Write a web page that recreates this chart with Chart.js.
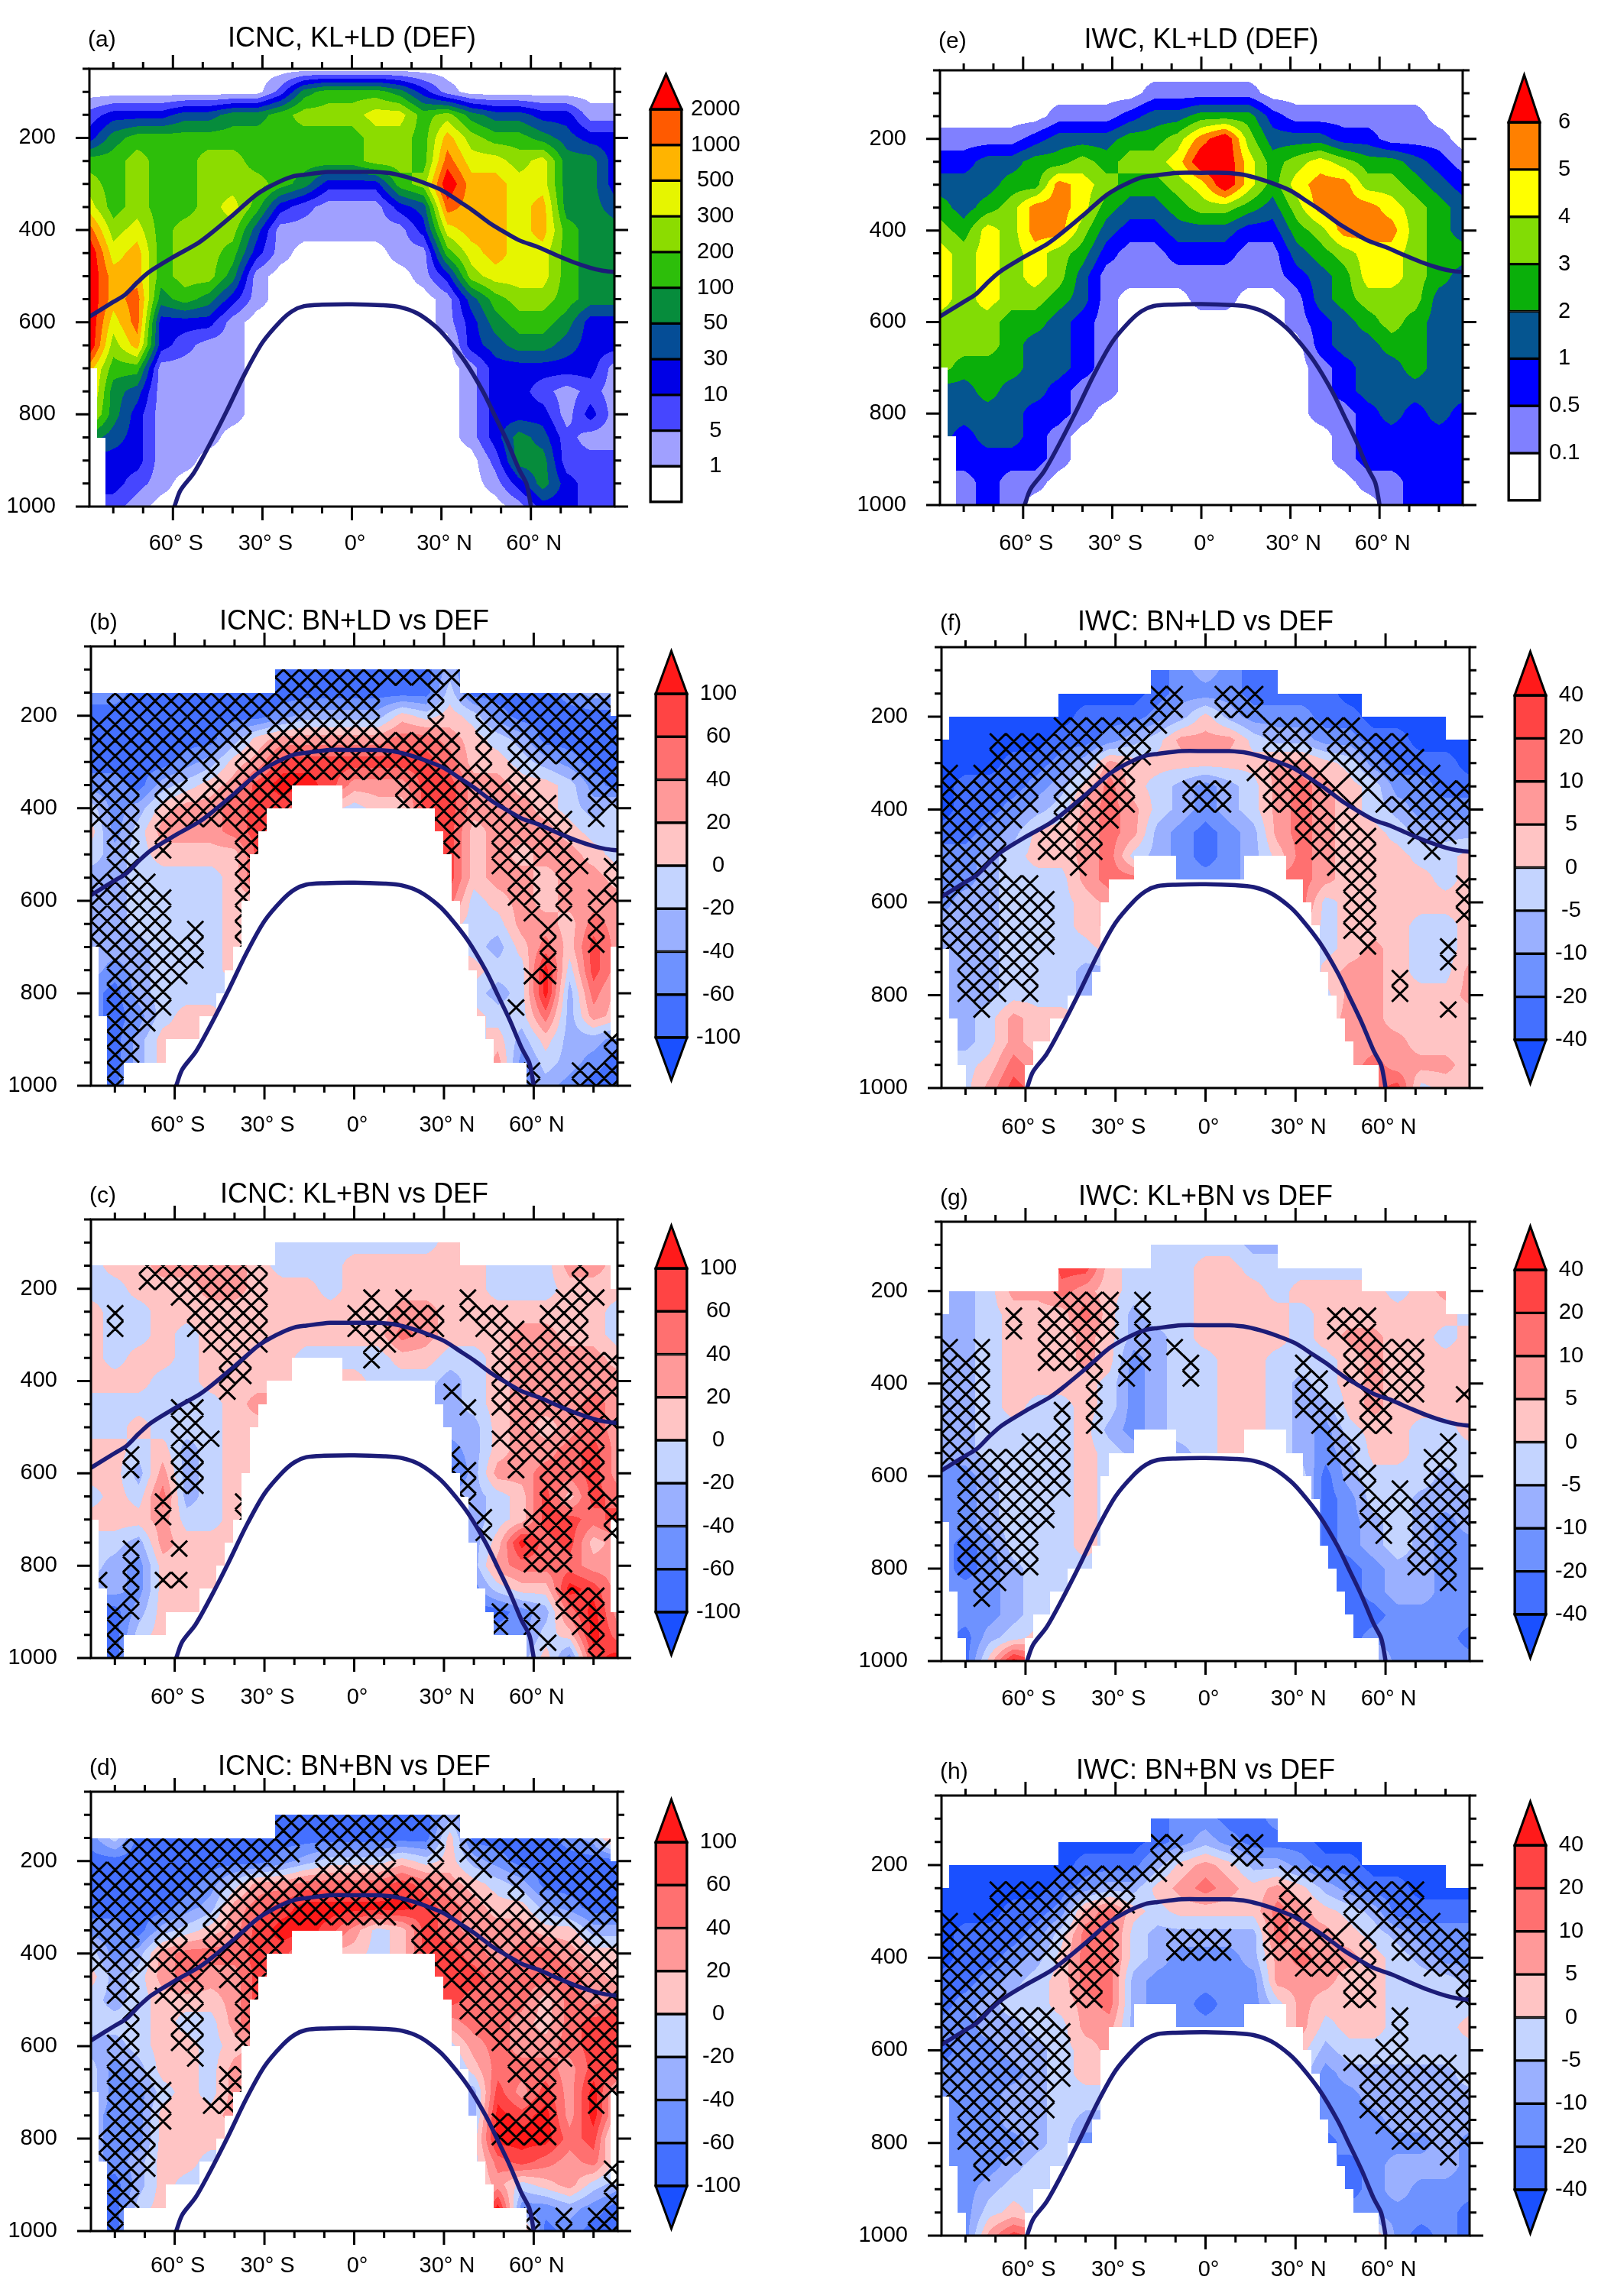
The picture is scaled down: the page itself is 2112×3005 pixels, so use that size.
<!DOCTYPE html>
<html>
<head>
<meta charset="utf-8">
<title>ICNC and IWC zonal means</title>
<script src="https://cdn.jsdelivr.net/npm/chart.js@4"></script>
<style>
body { margin: 0; background: #fff; }
#page { position: relative; width: 2112px; height: 3005px; overflow: hidden; }
canvas { position: absolute; }
</style>
</head>
<body>
<div id="page"></div>
<script>
const FONT = "'Liberation Sans', Arial, sans-serif";

const lats = [-88,-80,-72,-64,-56,-48,-40,-32,-24,-16,-8,0,8,16,24,32,40,48,56,64,72,80,88];
const plevsDef = [50,100,150,200,250,300,350,400,450,500,550,600,650,700,750,800,850,900,950,1000];
const plevsDiff = [100,150,200,250,300,350,400,450,500,550,600,650,700,750,800,850,900,950,1000];

const xLabels = {"-60":"60° S","-30":"30° S","0":"0°","30":"30° N","60":"60° N"};

// upper and lower blue curves
const upperLat = [-88,-80,-76,-72,-68,-60,-52,-48,-40,-36,-32,-28,-24,-20,-16,-8,0,8,14,20,24,30,36,40,46,50,56,62,68,74,80,84,88];
const upperP = [588,556,540,514,491,459,430,411,368,345,323,307,294,284,280,274,274,274,278,288,297,313,338,355,384,400,422,436,453,469,482,488,491];
const lowerLat = [-59.5,-57.5,-53,-48,-42,-36,-30,-24,-20,-16,-10,0,10,16,22,28,32,38,44,48,52,56,58.5,59.5,60];
const lowerP = [1000,965,927,869,793,713,644,598,576,565,562,561,563,567,581,609,636,686,751,804,858,919,950,980,1000];

// ICNC, KL+LD
const icncDef = [
[.5,.5,.5,.5,.5,.5,.5,.5,.5,.5,.5,.5,.5,.5,.5,.5,.5,.5,.5,.5,.5,.5,.5],
[.5,.5,.5,.5,.5,.5,.5,.5,7,75,150,150,150,75,20,3,.5,.5,.5,.5,.5,.5,.5],
[7,20,20,20,40,40,75,75,150,250,250,250,400,400,150,250,75,40,40,20,20,3,3],
[20,75,150,150,150,150,150,150,150,150,150,150,250,250,150,750,250,150,150,75,40,20,20],
[150,150,250,150,150,250,250,150,150,150,150,150,250,250,150,1500,400,400,250,400,75,75,20],
[250,150,250,150,150,250,250,250,150,75,20,20,20,150,250,3000,750,750,400,400,75,75,20],
[400,150,250,150,150,250,400,150,20,7,3,3,3,20,40,1500,750,750,400,750,75,75,40],
[1500,250,400,150,250,250,250,40,3,3,3,3,3,3,20,400,750,750,400,750,150,75,75],
[3000,400,750,150,250,250,150,20,3,.5,.5,.5,.5,3,3,150,400,750,400,400,150,75,75],
[3000,750,750,150,250,250,75,3,.5,.5,.5,.5,.5,.5,3,20,250,400,400,400,150,75,75],
[3000,750,1500,75,150,75,20,3,.5,.5,.5,.5,.5,.5,.5,3,40,150,250,250,150,75,75],
[3000,400,1500,20,20,20,3,.5,.5,.5,.5,.5,.5,.5,.5,3,20,75,150,150,75,20,20],
[3000,250,750,20,7,3,3,.5,.5,.5,.5,.5,.5,.5,.5,.5,20,40,75,75,40,20,20],
[750,150,150,3,3,3,3,.5,.5,.5,.5,.5,.5,.5,.5,.5,3,20,20,20,20,20,3],
[750,75,40,3,3,3,3,.5,.5,.5,.5,.5,.5,.5,.5,.5,3,20,20,7,3,7,3],
[400,75,20,3,3,3,3,.5,.5,.5,.5,.5,.5,.5,.5,.5,3,20,20,20,3,20,3],
[75,40,20,3,3,3,.5,.5,.5,.5,.5,.5,.5,.5,.5,.5,3,20,75,40,7,3,3],
[20,20,20,3,3,.5,.5,.5,.5,.5,.5,.5,.5,.5,.5,.5,.5,7,75,75,7,7,7],
[20,20,7,3,.5,.5,.5,.5,.5,.5,.5,.5,.5,.5,.5,.5,.5,3,20,75,20,7,7],
[7,7,3,.5,.5,.5,.5,.5,.5,.5,.5,.5,.5,.5,.5,.5,.5,.5,3,20,20,7,7]
];

// ICNC: BN+LD vs DEF
const icncB = [
[-80,-80,-80,-80,-80,-80,-80,-80,-80,-80,-80,-80,-80,-80,-80,-30,-80,-80,-80,-80,-80,-80,-80],
[-50,-50,-80,-80,-80,-80,-80,-80,-80,-80,-80,-80,-80,-80,-80,-10,-80,-80,-80,-80,-50,-30,-30],
[-80,-80,-80,-80,-80,-80,-80,-80,-50,-30,-30,-30,-30,10,-10,10,-10,-50,-80,-80,-80,-80,-80],
[-80,-80,-80,-80,-80,-80,-30,10,30,30,30,30,30,50,50,30,10,-10,-30,-80,-80,-80,-80],
[-80,-80,-80,-80,-50,-30,10,30,80,80,80,80,80,80,80,50,10,10,-10,-30,-50,-80,-80],
[-50,-50,-80,-30,-10,10,30,80,120,120,80,30,30,30,80,80,30,30,10,10,-10,-50,-80],
[-10,-50,-30,10,30,30,50,80,80,30,10,-10,10,10,80,80,30,30,30,10,-10,-30,-10],
[10,-50,-10,30,30,30,50,80,80,80,80,80,80,80,80,80,10,30,30,30,10,-10,-10],
[-10,-30,-10,10,10,10,10,80,80,80,80,80,80,80,80,80,10,30,10,30,30,10,-10],
[-30,-30,-10,-10,-10,-10,10,80,80,80,80,80,80,80,80,80,10,30,30,10,30,30,10],
[-30,-30,-10,-10,-10,-10,10,10,10,10,10,10,10,10,10,50,-10,10,30,10,30,30,30],
[-30,-30,-10,-10,-10,-10,10,10,10,10,10,10,10,10,10,10,-10,-10,30,30,10,50,30],
[-30,-30,-30,-10,-10,-10,10,10,10,10,10,10,10,10,10,10,-10,-30,10,50,10,80,30],
[-30,-50,-30,-10,-10,-10,10,10,10,10,10,10,10,10,10,10,10,-10,-10,120,-10,80,30],
[-50,-80,-30,-10,-10,-10,-10,-10,-10,-10,-10,-10,-10,-10,-10,-10,-10,-30,-10,120,-30,50,10],
[-50,-80,-50,-10,10,10,-10,-10,-10,-10,-10,-10,-10,-10,-10,-10,10,-10,-10,50,-30,30,10],
[-80,-80,-30,10,10,-10,-10,-10,-10,-10,-10,-10,-10,-10,-10,-10,-10,10,-30,10,-30,-30,-50],
[-80,-80,-30,10,10,-10,-10,-10,-10,-10,-10,-10,-10,-10,-10,-10,-10,30,-50,-10,-30,-50,-80],
[-80,-80,-10,10,10,-10,-10,-10,-10,-10,-10,-10,-10,-10,-10,-10,-10,-10,-50,-30,-50,-80,-80]
];

// ICNC: KL+BN vs DEF
const icncC = [
[-10,-10,-10,-10,-10,-10,-10,-10,-10,-10,-10,-10,-10,-10,-10,10,-10,-10,-10,-10,-10,-10,-10],
[-10,10,10,30,30,30,30,10,-10,-10,-10,10,10,10,10,10,10,-10,-10,-10,30,30,10],
[-10,-10,10,10,10,30,30,10,10,10,-10,10,10,10,10,10,10,-10,-10,-10,10,10,10],
[10,-10,-10,10,10,10,10,10,10,10,10,10,10,30,30,10,10,10,10,10,10,10,-10],
[10,-10,-10,10,-10,10,10,10,10,10,10,10,10,50,30,10,10,10,30,30,10,10,-10],
[10,-10,10,10,-10,10,10,10,10,-10,-10,-10,-10,10,10,-10,-10,10,30,30,30,30,10],
[10,10,10,-10,-10,10,10,10,10,-10,10,10,-10,-10,-10,-30,-10,10,30,30,30,30,30],
[-10,-10,-10,-10,-10,-10,10,30,30,30,30,30,30,30,-30,-30,-10,10,30,30,30,50,30],
[-10,-10,10,-10,-10,-10,10,10,10,10,10,10,10,10,-30,-30,-30,10,30,10,30,50,30],
[10,10,-10,10,-30,-10,10,10,10,10,10,10,10,10,-50,-50,-30,10,30,30,50,80,30],
[10,10,-30,30,-30,-10,10,10,10,10,10,10,10,10,-80,-80,-30,30,30,50,50,80,30],
[-10,10,-10,50,-30,-10,10,10,10,10,10,10,10,10,-30,-30,-30,-10,10,80,10,80,50],
[10,10,10,30,-10,-10,10,10,10,10,10,10,10,10,-30,-30,-30,-10,10,80,80,50,80],
[-10,-10,-30,30,10,10,10,10,10,10,10,10,10,10,-30,-30,-30,10,120,50,80,10,30],
[-10,-30,-50,10,10,10,10,10,10,10,10,10,10,10,-30,-30,-30,30,50,50,50,30,30],
[-30,-30,-50,10,10,10,10,10,10,10,10,10,10,10,-50,-50,-50,-10,10,10,120,80,30],
[-80,-80,-30,10,10,10,10,10,10,10,10,10,10,10,-80,-80,-80,-80,-50,-30,50,120,30],
[-80,-80,-10,10,10,10,10,10,10,10,10,10,10,10,-50,-50,-50,-50,-50,-10,10,120,50],
[-80,-80,-10,10,10,10,10,10,10,10,10,10,10,10,-30,-30,-30,-30,-30,10,-50,80,120]
];

// ICNC: BN+BN vs DEF
const icncD = [
[-80,-80,-80,-80,-80,-80,-80,-80,-80,-80,-80,-80,-80,-80,-80,-30,-80,-80,-80,-80,-80,-80,-80],
[-50,-10,-80,-80,-80,-80,-80,-80,-80,-80,-80,-80,-80,-80,-80,10,-80,-80,-80,-80,-50,-30,50],
[-80,-80,-80,-80,-80,-80,-80,-80,-50,-30,-10,-10,-10,10,-10,10,-30,-50,-80,-80,-80,-80,-80],
[-80,-80,-80,-80,-80,-50,-10,30,30,50,50,50,50,80,50,30,10,-10,-30,-80,-80,-80,-80],
[-80,-80,-80,-80,-50,-30,30,50,80,120,120,120,120,120,80,50,30,10,10,-30,-50,-80,-80],
[-50,-50,-80,-30,-10,10,30,80,120,120,80,30,-10,10,80,50,30,30,30,10,10,-30,-30],
[-10,-50,-30,30,50,50,50,80,80,30,10,10,-10,10,80,80,50,30,50,50,30,10,10],
[10,-30,-10,30,50,30,30,80,80,80,80,80,80,80,80,80,80,50,50,50,50,30,10],
[-10,-30,-10,10,10,10,30,80,80,80,80,80,80,80,80,80,50,50,50,10,50,30,50],
[-10,-10,-10,10,-10,-10,30,80,80,80,80,80,80,80,80,30,50,50,30,10,50,80,80],
[-30,-30,-10,10,10,-10,10,30,30,30,30,30,30,30,30,-10,30,50,30,30,50,80,80],
[-10,-50,-30,10,10,-10,30,30,30,30,30,30,30,30,30,-30,10,50,50,50,30,80,80],
[-10,-50,-50,-10,10,-10,30,30,30,30,30,30,30,30,30,-30,-30,80,30,80,30,120,10],
[-30,-50,-50,10,10,10,30,30,30,30,30,30,30,30,30,-30,-30,120,80,120,30,120,10],
[-30,-50,-50,10,10,10,10,10,10,10,10,10,10,10,10,-10,-10,120,120,120,50,80,-30],
[-30,-50,-30,10,10,-10,-10,-10,-10,-10,-10,-10,-10,-10,-10,-10,-10,50,80,50,30,50,-10],
[-80,-80,-30,10,-10,-10,-10,-10,-10,-10,-10,-10,-10,-10,-10,-10,-10,30,-10,10,30,-10,-30],
[-80,-80,-10,10,10,-10,-10,-10,-10,-10,-10,-10,-10,-10,-10,-10,-10,120,-50,-50,-30,-50,-80],
[-80,-80,-10,10,10,-10,-10,-10,-10,-10,-10,-10,-10,-10,-10,-10,-10,-10,50,-80,-50,-80,-80]
];

// IWC, KL+LD
const iwcDef = [
[.05,.05,.05,.05,.05,.05,.05,.05,.05,.05,.05,.05,.05,.05,.05,.05,.05,.05,.05,.05,.05,.05,.05],
[.05,.05,.05,.05,.05,.05,.05,.05,.05,.3,.3,.3,.3,.3,.05,.05,.05,.05,.05,.05,.05,.05,.05],
[.05,.05,.05,.05,.05,.3,.3,.3,.75,1.5,1.5,2.5,2.5,2.5,.75,.3,.3,.3,.3,.3,.3,.05,.05],
[.3,.3,.3,.3,.75,1.5,1.5,1.5,2.5,2.5,3.5,5.5,7,3.5,1.5,1.5,1.5,.75,.75,.3,.3,.3,.05],
[.75,.75,1.5,1.5,2.5,2.5,3.5,2.5,3.5,3.5,4.5,7,7,4.5,2.5,3.5,4.5,3.5,2.5,2.5,1.5,.75,.3],
[1.5,1.5,1.5,2.5,2.5,5.5,4.5,3.5,2.5,2.5,3.5,4.5,7,4.5,2.5,4.5,5.5,5.5,3.5,3.5,2.5,1.5,.75],
[2.5,1.5,2.5,3.5,5.5,5.5,4.5,2.5,1.5,1.5,2.5,3.5,3.5,2.5,1.5,3.5,5.5,5.5,5.5,4.5,3.5,2.5,1.5],
[3.5,2.5,4.5,3.5,5.5,5.5,3.5,1.5,.75,.75,1.5,1.5,1.5,.75,.75,2.5,3.5,5.5,5.5,5.5,3.5,2.5,1.5],
[4.5,3.5,4.5,3.5,4.5,3.5,2.5,.75,.3,.3,.75,.75,.75,.3,.3,1.5,2.5,3.5,4.5,4.5,3.5,2.5,2.5],
[4.5,3.5,4.5,3.5,4.5,3.5,1.5,.3,.3,.3,.3,.3,.3,.3,.3,.75,1.5,2.5,4.5,4.5,3.5,2.5,1.5],
[4.5,3.5,4.5,3.5,3.5,2.5,1.5,.3,.05,.05,.05,.3,.3,.05,.05,.3,1.5,2.5,3.5,3.5,3.5,1.5,1.5],
[3.5,3.5,3.5,2.5,2.5,1.5,.75,.3,.05,.05,.05,.05,.05,.05,.05,.3,.75,1.5,2.5,3.5,2.5,1.5,1.5],
[3.5,3.5,3.5,2.5,1.5,1.5,.75,.3,.05,.05,.05,.05,.05,.05,.05,.05,.75,1.5,1.5,2.5,2.5,1.5,1.5],
[3.5,2.5,2.5,2.5,1.5,1.5,.75,.3,.05,.05,.05,.05,.05,.05,.05,.05,.3,.75,1.5,1.5,2.5,1.5,1.5],
[1.5,1.5,2.5,1.5,1.5,.75,.3,.3,.05,.05,.05,.05,.05,.05,.05,.05,.3,.75,1.5,1.5,1.5,1.5,1.5],
[1.5,1.5,1.5,1.5,.75,.75,.3,.05,.05,.05,.05,.05,.05,.05,.05,.05,.3,.3,.75,1.5,.75,1.5,.75],
[1.5,.75,1.5,1.5,.75,.3,.05,.05,.05,.05,.05,.05,.05,.05,.05,.05,.05,.3,.75,.75,.75,.75,.75],
[.75,.75,.75,.75,.75,.3,.05,.05,.05,.05,.05,.05,.05,.05,.05,.05,.05,.3,.75,.75,.75,.75,.75],
[.3,.3,.75,.3,.3,.05,.05,.05,.05,.05,.05,.05,.05,.05,.05,.05,.05,.05,.3,.3,.75,.75,.75],
[.3,.3,.75,.3,.05,.05,.05,.05,.05,.05,.05,.05,.05,.05,.05,.05,.05,.05,.05,.3,.75,.75,.75]
];

// IWC: BN+LD vs DEF
const iwcF = [
[-30,-30,-30,-30,-30,-30,-30,-30,-30,-30,-15,-7,-15,-30,-30,-30,-30,-30,-30,-30,-30,-30,-30],
[-50,-50,-50,-50,-50,-50,-50,-50,-50,-30,-15,-15,-15,-30,-30,-30,-30,-50,-50,-50,-50,-50,-50],
[-50,-50,-50,-50,-50,-50,-30,-30,-30,-15,-7,2,-7,-15,-15,-15,-30,-30,-50,-50,-50,-50,-50],
[-50,-50,-50,-50,-50,-30,-30,-15,-7,-2,7,7,7,-2,-7,-7,-15,-15,-30,-30,-50,-50,-50],
[-50,-50,-50,-30,-30,-15,-7,7,2,2,2,2,2,2,7,7,2,-2,-15,-30,-30,-30,-50],
[-50,-30,-30,-30,-15,-7,2,15,2,-2,-7,-15,-7,-2,7,15,7,2,-2,-15,-15,-30,-30],
[-50,-30,-30,-15,-7,-2,7,15,7,-2,-7,-15,-7,-2,7,15,7,2,-2,-7,-15,-15,-15],
[-30,-30,-15,-7,2,2,7,15,7,-7,-15,-30,-15,-7,7,15,7,2,2,-2,-7,-7,-7],
[-15,-15,-7,-2,2,2,7,15,-2,-7,-15,-30,-15,-7,2,15,7,2,2,2,-2,-2,2],
[-15,-15,-7,-2,-2,-2,7,15,15,-7,-15,-15,-15,-7,15,15,7,2,2,2,2,-2,2],
[-15,-7,-7,-2,-2,-2,2,7,7,-7,-7,-7,-7,-7,7,15,-2,2,2,2,2,2,2],
[-7,-7,-7,-2,-2,-2,2,7,7,7,7,7,7,7,7,7,-2,2,2,2,-2,-2,2],
[-7,-7,-7,-2,-2,-2,-2,2,2,2,2,2,2,2,2,2,-2,2,7,2,-2,-2,2],
[-7,-7,-7,-2,-2,-2,-7,-7,-7,-7,-7,-7,-7,-7,-7,-7,2,7,7,2,-2,-2,7],
[-7,-7,-7,-2,-2,-2,-7,-7,-7,-7,-7,-7,-7,-7,-7,-7,-2,7,7,2,2,2,7],
[-7,-7,-2,7,2,2,2,2,2,2,2,2,2,2,2,2,2,7,7,2,2,2,2],
[-7,-7,-2,7,2,2,2,2,2,2,2,2,2,2,2,2,2,7,7,7,2,2,2],
[-2,-2,2,15,7,2,2,2,2,2,2,2,2,2,2,2,2,7,15,7,7,7,2],
[-2,-2,7,30,15,2,2,2,2,2,2,2,2,2,2,2,2,7,15,30,-2,2,2]
];

// IWC: KL+BN vs DEF
const iwcG = [
[-2,-2,-2,-2,-2,-2,-2,-2,-2,-2,-2,-2,-2,-7,-7,-2,-2,-2,-2,-2,-2,-2,-2],
[-2,-2,-2,-2,-2,30,30,2,-2,-2,-2,2,2,-2,-2,-2,-2,-2,-2,-2,-2,-2,-2],
[-7,-7,-2,7,7,15,7,2,-2,-2,-2,2,2,2,-2,2,2,2,2,-2,2,7,2],
[-7,-7,-2,2,2,2,15,2,-7,-2,-2,2,2,2,2,-2,2,2,2,2,2,2,-2],
[-7,-7,-2,2,2,2,7,2,-7,-7,-2,2,2,2,2,-2,2,7,7,2,2,-2,2],
[-7,-7,-2,2,2,2,7,2,-15,-7,-2,-2,2,2,-2,-2,-2,2,7,2,2,2,2],
[-7,-7,-2,2,2,2,2,-2,-15,-7,-2,-2,2,2,-2,-7,-2,2,7,2,2,2,2],
[-7,-7,-2,2,-2,-2,2,-2,-15,-7,-2,-2,2,2,-2,-7,-7,2,7,2,2,2,2],
[-7,-7,-2,-2,-2,-2,2,-7,-15,-7,-2,-2,2,2,-2,-7,-15,-2,2,2,-2,-2,2],
[-7,-7,-2,-2,-2,-2,2,-2,-7,-7,-7,-2,2,2,-2,-7,-15,-7,2,2,-2,-2,-2],
[-15,-15,-7,-2,-2,-2,2,-2,-2,-2,-2,-2,-2,-2,-2,-2,-30,-7,-2,-2,-2,-7,-2],
[-15,-15,-7,-2,-2,-2,2,-2,-2,-2,-2,-2,-2,-2,-2,-2,-30,-15,-2,-2,-7,-7,-7],
[-15,-15,-7,-2,-2,-2,2,-2,-2,-2,-2,-2,-2,-2,-2,-2,-30,-15,-7,-2,-7,-15,-7],
[-15,-30,-15,-2,-2,-2,2,-2,-2,-2,-2,-2,-2,-2,-2,-2,-30,-15,-7,-2,-7,-15,-15],
[-15,-30,-15,-7,-2,-2,-2,-2,-2,-2,-2,-2,-2,-2,-2,-2,-30,-30,-15,-7,-7,-15,-15],
[-15,-15,-15,-7,-2,-2,-2,-2,-2,-2,-2,-2,-2,-2,-2,-2,-30,-30,-15,-7,-7,-15,-15],
[-15,-15,-15,-7,-2,-2,-2,-2,-2,-2,-2,-2,-2,-2,-2,-2,-30,-30,-30,-15,-15,-15,-15],
[-15,-30,-7,-2,2,2,2,2,2,2,2,2,2,2,2,2,2,-30,-15,-15,-15,-15,-30],
[-15,-30,2,50,15,2,2,2,2,2,2,2,2,2,2,2,2,-15,-2,-15,-15,-15,-15]
];

// IWC: BN+BN vs DEF
const iwcH = [
[-30,-30,-30,-30,-30,-30,-30,-30,-30,-30,-15,-15,-30,-30,-15,-30,-30,-30,-30,-30,-30,-30,-30],
[-50,-50,-50,-50,-50,-50,-50,-50,-50,-30,-15,-7,-15,-30,-30,-30,-50,-50,-50,-50,-50,-50,-50],
[-50,-50,-50,-50,-50,-50,-30,-30,-30,-7,2,7,2,-7,-7,-15,-30,-30,-50,-50,-50,-50,-50],
[-50,-50,-50,-50,-50,-30,-15,-7,-7,2,7,15,7,2,7,2,-7,-15,-30,-30,-50,-50,-50],
[-50,-50,-50,-30,-30,-15,7,15,2,-2,2,2,2,2,15,7,2,-2,-7,-30,-30,-30,-30],
[-50,-30,-30,-30,-15,-2,15,15,-2,-7,-7,-7,-7,-7,15,7,7,2,-2,-7,-15,-15,-15],
[-50,-30,-30,-15,-7,2,15,15,-2,-7,-15,-15,-15,-7,7,15,7,7,2,-2,-7,-15,-15],
[-30,-30,-15,-7,-2,2,15,15,-7,-15,-15,-15,-15,-15,7,7,7,2,2,-2,-2,-2,-7],
[-30,-15,-7,-2,-2,2,7,15,-7,-15,-15,-30,-15,-15,-2,7,2,2,2,-2,-2,-2,-2],
[-15,-15,-7,-7,-2,-2,7,7,-7,-7,-15,-15,-15,-15,-2,7,-2,2,2,-2,-2,-2,2],
[-30,-15,-15,-7,-7,-2,2,7,-2,-7,-15,-15,-15,-7,-2,2,-7,-2,-2,-2,-2,-2,-2],
[-15,-15,-15,-15,-7,-2,2,2,-2,-2,-2,-2,-2,-2,-2,-2,-15,-7,-7,-7,-7,-7,-2],
[-15,-15,-15,-7,-7,-2,-2,-2,-2,-2,-2,-2,-2,-2,-2,-2,-15,-15,-7,-7,-7,-7,-7],
[-15,-15,-15,-7,-7,-2,-7,-7,-7,-7,-7,-7,-7,-7,-7,-7,-15,-15,-15,-7,-7,-7,-7],
[-15,-15,-15,-15,-7,-2,-15,-15,-15,-15,-15,-15,-15,-15,-15,-15,-30,-15,-15,-15,-15,-7,-15],
[-15,-15,-15,-7,-2,-2,-2,-2,-2,-2,-2,-2,-2,-2,-2,-2,-15,-30,-15,-7,-7,-7,-15],
[-15,-15,-7,-2,-2,-2,-2,-2,-2,-2,-2,-2,-2,-2,-2,-2,-15,-30,-15,-7,-15,-15,-15],
[-15,-15,-2,2,-2,2,2,2,2,2,2,2,2,2,2,2,2,-15,-15,-15,-15,-15,-30],
[-15,-15,7,30,15,2,2,2,2,2,2,2,2,2,2,2,2,-15,7,-15,-30,-15,-30]
];

const icncLevels = [1,5,10,30,50,100,200,300,500,1000,2000];
const icncColors = ["#ffffff","#a0a0ff","#4646ff","#0000e6","#054d96","#068c3c","#2dbe0a","#8cdc00","#e6f500","#ffb400","#ff5a00","#ff0000"];
const iwcLevels = [0.1,0.5,1,2,3,4,5,6];
const iwcColors = ["#ffffff","#8080ff","#0000ff","#055590","#0aaf0a","#82dc05","#ffff00","#ff8000","#ff0000"];
const diffColors = ["#1a50ff","#4470ff","#6e92ff","#9ab0ff","#c4d4ff","#ffc4c4","#ff9999","#ff7070","#ff4444","#ff1a1a"];
const icncDiffLevels = [-100,-60,-40,-20,0,20,40,60,100];
const iwcDiffLevels = [-40,-20,-10,-5,0,5,10,20,40];

// edges of the model columns, and the pressure range each one has data for
const maskEdges = [-88.3,-85.5,-82.7,-79.9,-77.1,-74.2,-71.4,-68.6,-65.8,-63,-60.2,-57.4,-54.6,-51.8,-49,-46.1,-43.3,-40.5,-37.7,-34.9,-32.1,-29.3,-26.5,-23.7,-20.9,-18.1,-15.3,-12.5,-9.7,-6.9,-4,-1.2,1.6,4.4,7.2,10,12.8,15.6,18.4,21.2,24,26.9,29.7,32.5,35.3,38.1,40.9,43.7,46.5,49.3,52.1,54.9,57.7,60.5,63.3,66.1,68.9,71.7,74.5,77.3,80.2,83,85.8,88.6];
const defTop = new Array(63).fill(50);
const defBottom = [700,850].concat(new Array(61).fill(1000));
const icncTop = [150,150,150,150,150,150,150,150,150,150,150,150,150,150,150,150,150,150,150,150,150,150,100,100,100,100,100,100,100,100,100,100,100,100,100,100,100,100,100,100,100,100,100,100,150,150,150,150,150,150,150,150,150,150,150,150,150,150,150,150,150,150,200];
const icncBottom = [700,850,1000,1000,950,950,950,950,950,900,900,900,900,850,850,800,750,700,600,500,450,400,400,400,350,350,350,350,350,350,400,400,400,400,400,400,400,400,400,400,400,450,500,600,650,750,850,900,950,950,950,950,1000,1000,1000,1000,1000,1000,1000,1000,1000,1000,1000];
const iwcTop = [250,200,200,200,200,200,200,200,200,200,200,200,200,200,150,150,150,150,150,150,150,150,150,150,150,100,100,100,100,100,100,100,100,100,100,100,100,100,100,100,150,150,150,150,150,150,150,150,150,150,200,200,200,200,200,200,200,200,200,200,250,250,250];
const iwcBottom = [700,850,950,1000,1000,1000,1000,1000,1000,1000,950,900,900,850,850,800,800,800,750,600,550,550,550,500,500,500,500,500,550,550,550,550,550,550,550,550,500,500,500,500,500,550,550,600,650,750,800,850,900,950,950,950,1000,1000,1000,1000,1000,1000,1000,1000,1000,1000,1000];

const hatchLats = [-85.3,-79.9,-74.6,-69.2,-63.9,-58.5,-53.1,-47.8,-42.4,-37.1,-31.7,-26.3,-21,-15.6,-10.3,-4.9,.5,5.8,11.2,16.5,21.9,27.3,32.6,38,43.3,48.7,54.1,59.4,64.8,70.1,75.5,80.9,86.2];
const hatchP = [117,151,185,219,253,287,321,355,389,423,457,491,525,559,593,627,661,695,729,763,797,831,865,899,933,967,1001];

const hatchB = [
"...........############..........",
".#################...#.##########",
".#################...#..#########",
"##########.#######...#..#########",
"##########.############.#.#######",
"########.##############.#.#######",
"######.#.################.##..###",
"###.##.######......#########...##",
"###.#########......##########..##",
"###.#######..........#########.#.",
".##.#....##...........#..#####...",
".##.#....##...........#..#####...",
".##......#...............###.##.#",
"####.....#................##.#..#",
"#####....#................##.#.##",
"#####....#.................#.#.#.",
"#####.#..#..................#..#.",
"#######..#..................#..#.",
".######.....................#....",
".#####.....................##....",
".####............................",
".####.....................#......",
".###.............................",
".##.............................#",
".##.............................#",
".#.........................#..###",
".#.........................#..###"
];
const hatchC = [
".................................",
"...########...................#..",
"...########...................#..",
".....######......#.#...#.....###.",
".#....#####.....######.###..###..",
".#....#####.....######..###.###..",
".......####......##......######..",
"........##.......#.......########",
"........##...............########",
"........#.............#..########",
".....##................#.#######.",
".....##...................#######",
".....###.................#######.",
"..#..##...............#...######.",
"..#..##...............##..#.####.",
".....##................#....##.#.",
"....#....#.............#....##.##",
"....#....#..............#..###..#",
"........................#..###..#",
"..#..#.....................###...",
"..#........................###...",
"#.#.##...........................",
"..#..........................###.",
".##......................#.#.###.",
".#.......................#.#..##.",
".#..........................#..#.",
".#.............................#."
];
const hatchD = [
"...........############..........",
"..###########.#####..#.##########",
"..###########.#####..#.#########.",
"############..#####..#..#.#######",
"########################..#.#####",
"#######.#################.#.#####",
"######.############..#########.##",
"###.##.#####........#########.##.",
"###.##.#####........#############",
"###########..........############",
".##..##.###...........###########",
".##.###..##............##########",
"..#..##..#.............##########",
"..#..##..#..............#########",
".##..##..#...............########",
".##...#...................####.##",
".###....##................###..##",
".####...##.................##..##",
".####..##..................##..#.",
".####....................####....",
"####.....................####....",
"####.............................",
".###............................#",
".##.............................#",
".##.............................#",
".#.........................#.#.##",
".#.........................#.#.##"
];
const hatchF = [
".................................",
".............##..###.............",
".............##..###.............",
".......#######......######.......",
"...#######.##.......###.#####....",
"...#######.##.......###.######...",
"#.##########.......#####.######..",
"######.#####...###..#####.#..####",
"######.#####...###..####.#.######",
"#####..####...........####...####",
"####..####............#####..###.",
"####..####.............####...#..",
"####....#...............###......",
"######...................##.....#",
"#######..................##.....#",
"#######..................##.....#",
"#######..................##......",
"#######...................#....#.",
".#####.........................#.",
".#####......................#....",
".###.#......................#....",
"..#............................#."
];
const hatchG = [
".................................",
".................................",
".................................",
".......####.#....................",
"....#.#####.#...........###......",
"....#.#####.#...........###......",
"#.#...####..#.#..........#####...",
"###...####.##..#......#..#####...",
"###......#.#...#......##.#####...",
"###......#............##..####..#",
"###....#.#............###.##.....",
"###....#.#.............##.##.....",
"##...###................##.....#.",
"########................##....##.",
".#######.................##...##.",
".#######..................#.#.###",
".######...................#######",
".######...................##.####",
".#####.....................#.###.",
".#####.......................###.",
".#####.......................###.",
"..##...........................#.",
"..#.............................."
];
const hatchH = [
".................................",
".............##...##.............",
".............##...##.............",
".......#######.......#####.......",
"...#########.........#...#####...",
"...#########.........##..#####...",
"#.#########.........###..#.####..",
"########.##...####..#####.#.#####",
"########.##...####..#####.#.#####",
"#####..####...........#####...###",
"####....##...............##.....#",
"####....##...............##.....#",
"#######.....................#....",
"########....................#....",
"########...................##....",
"########.................#######.",
"########..................#######",
"#######...................#######",
".######...................#######",
".#####.....................######",
".#####......................#####",
"..###..........................#.",
"..#.............................."
];

function bandIndex(v, levels, colors) {
  const n = levels.length;
  let idx;
  if (v < levels[0]) {
    idx = levels[0] > 0 ? v / levels[0] : 1 - (levels[0] - v) / (levels[1] - levels[0]);
  } else if (v >= levels[n - 1]) {
    idx = n + (v - levels[n - 1]) / (levels[n - 1] - levels[n - 2]);
  } else {
    let k = 0;
    while (v >= levels[k + 1]) k++;
    idx = k + 1 + (v - levels[k]) / (levels[k + 1] - levels[k]);
  }
  return Math.max(0, Math.min(colors.length - 0.001, idx));
}

function findCell(list, v) {
  let i = 0;
  while (i < list.length - 2 && v >= list[i + 1]) i++;
  return i;
}

function hexRgb(h) {
  return [parseInt(h.slice(1, 3), 16), parseInt(h.slice(3, 5), 16), parseInt(h.slice(5, 7), 16)];
}

// paints the field as filled contour bands, pixel by pixel, through the chart scales
const fieldPlugin = {
  id: "field",
  beforeDatasetsDraw(chart, args, opts) {
    const area = chart.chartArea;
    const w = Math.round(area.right - area.left), h = Math.round(area.bottom - area.top);
    const off = document.createElement("canvas");
    off.width = w; off.height = h;
    const octx = off.getContext("2d");
    const img = octx.createImageData(w, h);
    const rgb = opts.colors.map(hexRgb);
    const grid = opts.values.map(row => row.map(v => bandIndex(v, opts.levels, opts.colors)));
    const xs = chart.scales.x, ys = chart.scales.y;
    const pxLat = [], pxP = [];
    for (let i = 0; i < w; i++) pxLat.push(xs.getValueForPixel(area.left + i + 0.5));
    for (let j = 0; j < h; j++) pxP.push(ys.getValueForPixel(area.top + j + 0.5));
    for (let j = 0; j < h; j++) {
      const p = pxP[j];
      const r = findCell(opts.plevs, p);
      const tp = Math.max(0, Math.min(1, (p - opts.plevs[r]) / (opts.plevs[r + 1] - opts.plevs[r])));
      for (let i = 0; i < w; i++) {
        const lat = pxLat[i];
        const m = findCell(maskEdges, lat);
        let ok = p >= opts.top[m] && p <= opts.bottom[m];
        if (opts.hole && m === 62 && p > opts.hole[0] && p < opts.hole[1]) ok = false;
        if (!ok) continue;
        const c = findCell(lats, lat);
        const tl = Math.max(0, Math.min(1, (lat - lats[c]) / (lats[c + 1] - lats[c])));
        const v = (1 - tp) * ((1 - tl) * grid[r][c] + tl * grid[r][c + 1]) + tp * ((1 - tl) * grid[r + 1][c] + tl * grid[r + 1][c + 1]);
        const col = rgb[Math.floor(v)];
        const o = (j * w + i) * 4;
        img.data[o] = col[0]; img.data[o + 1] = col[1]; img.data[o + 2] = col[2]; img.data[o + 3] = 255;
      }
    }
    octx.putImageData(img, 0, 0);
    chart.ctx.drawImage(off, area.left, area.top);

    // significance crosses, kept inside the columns that have data
    if (opts.hatch) {
      const ctx = chart.ctx;
      ctx.save();
      ctx.beginPath();
      for (let m = 0; m < opts.top.length; m++) {
        const x0 = Math.round(Math.max(area.left, xs.getPixelForValue(maskEdges[m])));
        const x1 = Math.round(Math.min(area.right, xs.getPixelForValue(maskEdges[m + 1])));
        const y0 = Math.round(ys.getPixelForValue(opts.top[m]));
        const y1 = Math.round(ys.getPixelForValue(opts.bottom[m]));
        ctx.rect(x0, y0, x1 - x0, y1 - y0);
      }
      ctx.clip();
      ctx.strokeStyle = "#000";
      ctx.lineWidth = 3;
      ctx.beginPath();
      opts.hatch.forEach((row, r) => {
        for (let c = 0; c < row.length; c++) {
          if (row[c] !== "#") continue;
          const x0 = xs.getPixelForValue(hatchLats[c] - 2.68), x1 = xs.getPixelForValue(hatchLats[c] + 2.68);
          const y0 = ys.getPixelForValue(hatchP[r] - 17), y1 = ys.getPixelForValue(hatchP[r] + 17);
          ctx.moveTo(x0, y0); ctx.lineTo(x1, y1);
          ctx.moveTo(x0, y1); ctx.lineTo(x1, y0);
        }
      });
      ctx.stroke();
      ctx.restore();
    }
  }
};

// NCL style frame with outward ticks on all sides, plus title and panel letter
const framePlugin = {
  id: "frame",
  afterDraw(chart, args, opts) {
    const ctx = chart.ctx, a = chart.chartArea;
    ctx.save();
    ctx.strokeStyle = "#000";
    ctx.lineWidth = 3;
    ctx.strokeRect(a.left, a.top, a.right - a.left, a.bottom - a.top);
    ctx.beginPath();
    chart.scales.x.ticks.forEach(t => {
      const len = t.value % 30 === 0 ? 18 : 9;
      const x = chart.scales.x.getPixelForValue(t.value);
      ctx.moveTo(x, a.top); ctx.lineTo(x, a.top - len);
      ctx.moveTo(x, a.bottom); ctx.lineTo(x, a.bottom + len);
    });
    chart.scales.y.ticks.forEach(t => {
      const len = t.value % 200 === 0 ? 18 : 9;
      const y = chart.scales.y.getPixelForValue(t.value);
      ctx.moveTo(a.left, y); ctx.lineTo(a.left - len, y);
      ctx.moveTo(a.right, y); ctx.lineTo(a.right + len, y);
    });
    ctx.stroke();
    ctx.fillStyle = "#000";
    ctx.textBaseline = "middle";
    ctx.textAlign = "center";
    ctx.font = "36px " + FONT;
    ctx.fillText(opts.title, (a.left + a.right) / 2, a.top - opts.titleGap);
    ctx.textAlign = "left";
    ctx.font = "30px " + FONT;
    ctx.fillText(opts.letter, a.left - 2, a.top - opts.titleGap + 2);
    ctx.restore();
  }
};

function drawPanel(p) {
  const canvas = document.createElement("canvas");
  const padL = 110, padT = 90, padR = 40, padB = 90;
  canvas.style.left = (p.left - padL) + "px";
  canvas.style.top = (p.top - padT) + "px";
  canvas.width = p.right - p.left + padL + padR;
  canvas.height = p.bottom - p.top + padT + padB;
  document.getElementById("page").appendChild(canvas);
  new Chart(canvas, {
    type: "scatter",
    plugins: [fieldPlugin, framePlugin],
    data: {
      datasets: [
        { data: upperLat.map((v, i) => ({ x: v, y: upperP[i] })), showLine: true, tension: 0.3, pointRadius: 0, borderColor: "#1c1c78", borderWidth: 5.5 },
        { data: lowerLat.map((v, i) => ({ x: v, y: lowerP[i] })), showLine: true, tension: 0.3, pointRadius: 0, borderColor: "#1c1c78", borderWidth: 5.5 }
      ]
    },
    options: {
      responsive: false,
      animation: false,
      devicePixelRatio: 1,
      layout: { padding: { top: padT, right: padR, left: 0, bottom: 0 } },
      plugins: {
        legend: { display: false },
        tooltip: { enabled: false },
        field: { values: p.values, plevs: p.plevs, levels: p.levels, colors: p.colors, top: p.maskTop, bottom: p.maskBottom, hole: p.hole, hatch: p.hatch },
        frame: { title: p.title, letter: p.letter, titleGap: p.titleGap }
      },
      scales: {
        x: {
          type: "linear", min: -88, max: 88,
          grid: { display: false }, border: { display: false },
          afterFit(s) { s.height = padB; },
          ticks: {
            stepSize: 10, includeBounds: false, autoSkip: false, maxRotation: 0, minRotation: 0,
            padding: p.labelDrop - 25, labelOffset: 4, color: "#000", font: { family: FONT, size: 29 },
            callback: v => xLabels[v] || ""
          }
        },
        y: {
          type: "linear", reverse: true, min: 50, max: 1000,
          grid: { display: false }, border: { display: false },
          afterFit(s) { s.width = padL; },
          ticks: {
            stepSize: 50, autoSkip: false, padding: 36, color: "#000", font: { family: FONT, size: 29 },
            callback: v => (v % 200 === 0 ? String(v) : "")
          }
        }
      }
    }
  });
}

const barEndsPlugin = {
  id: "barEnds",
  afterDraw(chart, args, opts) {
    const ctx = chart.ctx, a = chart.chartArea;
    const tri = (yBase, yTip, color) => {
      ctx.beginPath();
      ctx.moveTo(a.left, yBase); ctx.lineTo((a.left + a.right) / 2, yTip); ctx.lineTo(a.right, yBase); ctx.closePath();
      ctx.fillStyle = color; ctx.fill();
      ctx.lineWidth = 3; ctx.strokeStyle = "#000"; ctx.stroke();
    };
    const ys = chart.scales.y;
    tri(ys.getPixelForValue(ys.max), a.top - opts.tipUp, opts.topColor);
    if (opts.lowColor) tri(ys.getPixelForValue(ys.min), a.bottom + opts.tipUp, opts.lowColor);
    ctx.lineWidth = 3; ctx.strokeStyle = "#000";
    ctx.strokeRect(a.left, a.top, a.right - a.left, a.bottom - a.top);
  }
};

function drawBar(b) {
  const canvas = document.createElement("canvas");
  const padL = 6, padV = 70, labelW = 120, barW = 41;
  canvas.style.left = (b.left - padL) + "px";
  canvas.style.top = (b.top - padV) + "px";
  canvas.width = padL + barW + labelW;
  canvas.height = b.bottom - b.top + 2 * padV;
  document.getElementById("page").appendChild(canvas);
  const rects = b.hasLow ? b.colors.slice(1, b.colors.length - 1) : b.colors.slice(0, b.colors.length - 1);
  new Chart(canvas, {
    type: "bar",
    plugins: [barEndsPlugin],
    data: {
      labels: [""],
      datasets: rects.map(c => ({ data: [1], backgroundColor: c, borderColor: "#000", borderWidth: 2, borderSkipped: false, barPercentage: 1, categoryPercentage: 1 }))
    },
    options: {
      responsive: false,
      animation: false,
      devicePixelRatio: 1,
      layout: { padding: { left: padL, top: padV, bottom: padV, right: 0 } },
      plugins: {
        legend: { display: false },
        tooltip: { enabled: false },
        barEnds: { topColor: b.colors[b.colors.length - 1], lowColor: b.hasLow ? b.colors[0] : null, tipUp: b.tipUp }
      },
      scales: {
        x: { display: false, stacked: true },
        y: {
          stacked: true, position: "right", min: 0, max: rects.length,
          grid: { display: false }, border: { display: false },
          afterFit(s) { s.width = labelW; },
          ticks: {
            stepSize: 1, autoSkip: false, padding: 4, crossAlign: "center", color: "#000", font: { family: FONT, size: 29 },
            callback: v => { const i = b.hasLow ? v : v - 1; return i >= 0 && i < b.levels.length ? String(b.levels[i]) : ""; }
          }
        }
      }
    }
  });
}

const icncPanel = { plevs: plevsDiff, levels: icncDiffLevels, colors: diffColors, maskTop: icncTop, maskBottom: icncBottom, hole: [700, 900] };
const iwcPanel = { plevs: plevsDiff, levels: iwcDiffLevels, colors: diffColors, maskTop: iwcTop, maskBottom: iwcBottom };

drawPanel({ left: 117, right: 804, top: 90, bottom: 663, title: "ICNC, KL+LD (DEF)", letter: "(a)", titleGap: 39, labelDrop: 49, values: icncDef, plevs: plevsDef, levels: icncLevels, colors: icncColors, maskTop: defTop, maskBottom: defBottom });
drawBar({ left: 851, top: 143, bottom: 657, colors: icncColors, levels: icncLevels, hasLow: false, tipUp: 46 });

drawPanel({ ...icncPanel, left: 119, right: 808, top: 846, bottom: 1421, title: "ICNC: BN+LD vs DEF", letter: "(b)", titleGap: 32, labelDrop: 52, values: icncB, hatch: hatchB });
drawBar({ left: 858, top: 908, bottom: 1358, colors: diffColors, levels: icncDiffLevels, hasLow: true, tipUp: 56 });

drawPanel({ ...icncPanel, left: 119, right: 808, top: 1596, bottom: 2170, title: "ICNC: KL+BN vs DEF", letter: "(c)", titleGap: 32, labelDrop: 52, values: icncC, hatch: hatchC });
drawBar({ left: 858, top: 1660, bottom: 2110, colors: diffColors, levels: icncDiffLevels, hasLow: true, tipUp: 56 });

drawPanel({ ...icncPanel, left: 119, right: 808, top: 2345, bottom: 2920, title: "ICNC: BN+BN vs DEF", letter: "(d)", titleGap: 32, labelDrop: 46, values: icncD, hatch: hatchD });
drawBar({ left: 858, top: 2411, bottom: 2861, colors: diffColors, levels: icncDiffLevels, hasLow: true, tipUp: 56 });

drawPanel({ left: 1230, right: 1914, top: 92, bottom: 661, title: "IWC, KL+LD (DEF)", letter: "(e)", titleGap: 39, labelDrop: 51, values: iwcDef, plevs: plevsDef, levels: iwcLevels, colors: iwcColors, maskTop: defTop, maskBottom: defBottom });
drawBar({ left: 1974, top: 160, bottom: 655, colors: iwcColors, levels: iwcLevels, hasLow: false, tipUp: 62 });

drawPanel({ ...iwcPanel, left: 1232, right: 1923, top: 847, bottom: 1424, title: "IWC: BN+LD vs DEF", letter: "(f)", titleGap: 32, labelDrop: 52, values: iwcF, hatch: hatchF });
drawBar({ left: 1982, top: 910, bottom: 1361, colors: diffColors, levels: iwcDiffLevels, hasLow: true, tipUp: 57 });

drawPanel({ ...iwcPanel, left: 1232, right: 1923, top: 1599, bottom: 2174, title: "IWC: KL+BN vs DEF", letter: "(g)", titleGap: 32, labelDrop: 50, values: iwcG, hatch: hatchG });
drawBar({ left: 1982, top: 1662, bottom: 2113, colors: diffColors, levels: iwcDiffLevels, hasLow: true, tipUp: 57 });

drawPanel({ ...iwcPanel, left: 1232, right: 1923, top: 2350, bottom: 2926, title: "IWC: BN+BN vs DEF", letter: "(h)", titleGap: 32, labelDrop: 45, values: iwcH, hatch: hatchH });
drawBar({ left: 1982, top: 2415, bottom: 2866, colors: diffColors, levels: iwcDiffLevels, hasLow: true, tipUp: 57 });
</script>
</body>
</html>
